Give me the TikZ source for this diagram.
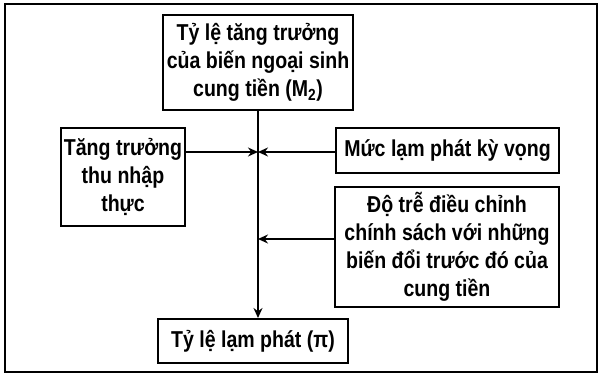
\documentclass[tikz,border=0pt]{standalone}
\usepackage{fontspec}
\setmainfont{Liberation Sans}[FakeStretch=0.85]
\usetikzlibrary{arrows.meta}
\begin{document}
\begin{tikzpicture}[x=1pt,y=-1pt,
  box/.style={draw,line width=2pt,inner sep=0pt,align=center,font=\fontsize{23}{28}\selectfont\bfseries},
  conn/.style={line width=1.5pt,-{Stealth[length=10pt,width=9pt]}}]
\useasboundingbox (0,0) rectangle (603,378);
\draw[line width=1.6pt] (5,4) rectangle (597,372);
\node[box,minimum width=190pt,minimum height=95pt] (top) at (258,62.5) {Tỷ lệ tăng trưởng\\của biến ngoại sinh\\cung tiền (M\textsubscript{2})};
\node[box,minimum width=124pt,minimum height=98pt] (left) at (123,177) {Tăng trưởng\\thu nhập\\thực};
\node[box,minimum width=223pt,minimum height=45pt] (muc) at (447.5,150.5) {Mức lạm phát kỳ vọng};
\node[box,minimum width=224pt,minimum height=120pt] (tre) at (447,247) {Độ trễ điều chỉnh\\chính sách với những\\biến đổi trước đó của\\cung tiền};
\node[box,minimum width=190pt,minimum height=44pt] (bot) at (253,341) {Tỷ lệ lạm phát (π)};
\coordinate (j1) at (258,152);
\coordinate (j2) at (258,239);
\draw[conn] (top.south -| j1) -- (bot.north -| j1);
\draw[conn] (left.east |- j1) -- (j1);
\draw[conn] (muc.west |- j1) -- (j1);
\draw[conn] (tre.west |- j2) -- (j2);
\end{tikzpicture}
\end{document}
